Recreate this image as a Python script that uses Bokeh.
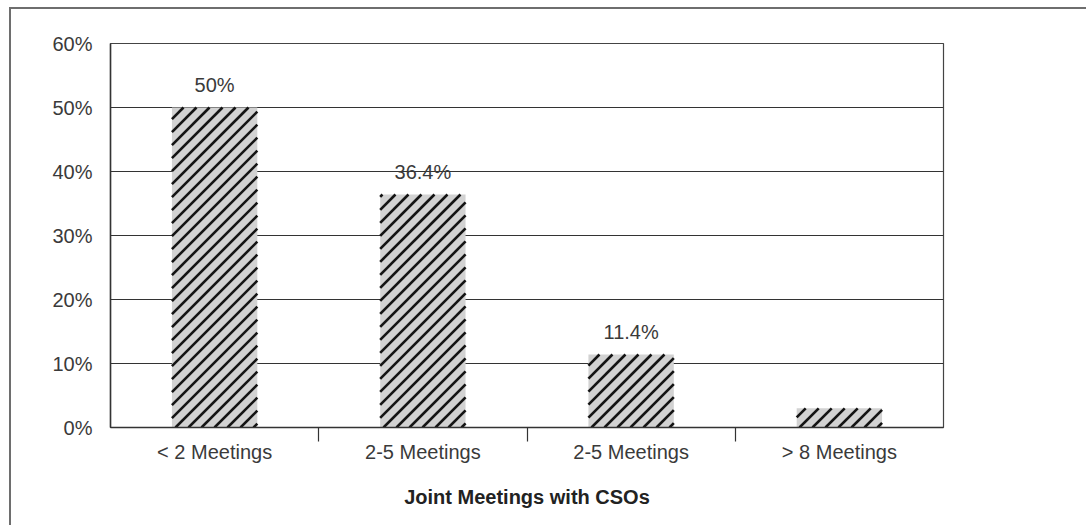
from bokeh.plotting import figure
from bokeh.models import FixedTicker, Range1d, ColumnDataSource
from bokeh.embed import file_html
from bokeh.resources import INLINE
from bokeh.core.properties import value

categories = ["< 2 Meetings", "2-5 Meetings", "2-5 Meetings", "> 8 Meetings"]
shares = [50.0, 36.4, 11.4, 3.0]
share_labels = ["50%", "36.4%", "11.4%", ""]
y_ticks = [0, 10, 20, 30, 40, 50, 60]

FONT = "Liberation Sans"
TEXT = "#3a3a3a"

# layout (px)
WIDTH, HEIGHT = 1077, 518
BORDER_L, BORDER_R, BORDER_T, BORDER_B = 99, 145, 34, 100
BAR_W = 0.41
Y_MAX = 60
X_MAX = len(categories)

x_pos = [i + 0.5 for i in range(len(categories))]
src = ColumnDataSource(dict(x=x_pos, top=shares, label=share_labels))


def stripes(xs, tops, width, spacing_px=13.0):
    """45-degree stripe segments clipped to each bar, in data units."""
    fw = WIDTH - BORDER_L - BORDER_R
    fh = HEIGHT - BORDER_T - BORDER_B
    kx = fw / X_MAX          # px per x unit
    ky = fh / Y_MAX          # px per y unit
    seg_x, seg_y = [], []
    for xc, top in zip(xs, tops):
        l_px = (xc - width / 2) * kx
        r_px = (xc + width / 2) * kx
        h_px = top * ky
        c = ((l_px - h_px) // spacing_px - 1) * spacing_px
        while c < r_px:
            x0 = max(l_px, c)
            x1 = min(r_px, c + h_px)
            if x1 > x0:
                seg_x.append([x0 / kx, x1 / kx])
                seg_y.append([(x0 - c) / ky, (x1 - c) / ky])
            c += spacing_px
    return seg_x, seg_y


p = figure(
    width=WIDTH, height=HEIGHT,
    x_range=Range1d(0, X_MAX), y_range=Range1d(0, Y_MAX),
    output_backend="svg", toolbar_location=None,
    min_border_left=BORDER_L, min_border_right=BORDER_R,
    min_border_top=BORDER_T, min_border_bottom=BORDER_B,
)
p.margin = (7, 0, 0, 9)
p.styles = {"border-left": "2px solid #6e6e6e", "border-top": "2px solid #6e6e6e"}
p.background_fill_color = "white"
p.border_fill_color = "white"
p.outline_line_color = "#444444"
p.outline_line_width = 1.2

p.vbar(x="x", top="top", width=BAR_W, source=src, fill_color="#d2d2d2", line_color=None)
sx, sy = stripes(x_pos, shares, BAR_W)
p.multi_line(xs=sx, ys=sy, line_color="#141414", line_width=2.6)

p.text(
    x="x", y="top", text="label", source=src,
    text_font=value(FONT), text_font_size="20px", text_color=TEXT,
    text_align="center", text_baseline="bottom", y_offset=-12,
)

# y axis: percent labels, no tick marks
p.yaxis.ticker = FixedTicker(ticks=y_ticks)
p.yaxis.major_label_overrides = {t: f"{t}%" for t in y_ticks}
p.yaxis.major_tick_line_color = None
p.yaxis.minor_tick_line_color = None
p.yaxis.axis_line_color = "#333333"
p.yaxis.axis_line_width = 1.5
p.yaxis.major_label_text_font = FONT
p.yaxis.major_label_text_font_size = "20px"
p.yaxis.major_label_text_color = TEXT
p.yaxis.major_label_standoff = 12

# x axis: labels at category centres, tick marks at boundaries
p.xaxis.ticker = FixedTicker(ticks=x_pos, minor_ticks=[1, 2, 3])
p.xaxis.major_label_overrides = {x: c for x, c in zip(x_pos, categories)}
p.xaxis.major_tick_line_color = None
p.xaxis.major_tick_out = 0
p.xaxis.major_tick_in = 0
p.xaxis.minor_tick_line_color = "#333333"
p.xaxis.minor_tick_line_width = 1.2
p.xaxis.minor_tick_out = 14
p.xaxis.minor_tick_in = 0
p.xaxis.axis_line_color = "#333333"
p.xaxis.axis_line_width = 1.5
p.xaxis.major_label_text_font = FONT
p.xaxis.major_label_text_font_size = "20px"
p.xaxis.major_label_text_color = TEXT
p.xaxis.major_label_standoff = -1
p.xaxis.axis_label = "Joint Meetings with CSOs"
p.xaxis.axis_label_text_font = FONT
p.xaxis.axis_label_text_font_size = "20px"
p.xaxis.axis_label_text_font_style = "bold"
p.xaxis.axis_label_text_color = "#222222"
p.xaxis.axis_label_standoff = 20

p.xgrid.grid_line_color = None
p.ygrid.ticker = FixedTicker(ticks=y_ticks)
p.ygrid.grid_line_color = "#333333"
p.ygrid.grid_line_width = 1

open("out.html", "w").write(file_html(p, INLINE))
